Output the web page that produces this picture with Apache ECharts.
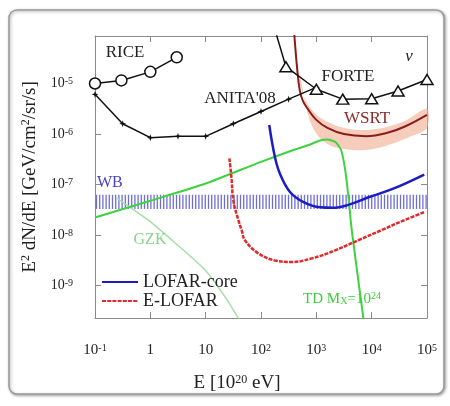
<!DOCTYPE html>
<html><head><meta charset="utf-8">
<script src="https://cdn.jsdelivr.net/npm/echarts@6/dist/echarts.min.js"></script>
<style>html,body{margin:0;padding:0;background:#fff}#c{width:450px;height:406px}</style>
</head><body><div id="c"></div>
<script>
// ---- tick values / labels ----
const xTickValues = [0.1, 1, 10, 100, 1000, 10000, 100000];
const xTickLabels = ['10{sup|-1}', '1', '10', '10{sup|2}', '10{sup|3}', '10{sup|4}', '10{sup|5}'];
const yTickValues = [1e-9, 1e-8, 1e-7, 1e-6, 1e-5];
const yTickLabels = ['10{sup|-9}', '10{sup|-8}', '10{sup|-7}', '10{sup|-6}', '10{sup|-5}'];

// ---- data: [E (1e20 eV), E^2 dN/dE (GeV/cm^2/sr/s)] ----
const RICE = [[0.1, 1.0e-5], [0.3, 1.15e-5], [1, 1.7e-5], [3, 3.3e-5]];
const ANITA = [[0.1, 6.1e-6], [0.316, 1.6e-6], [1, 8.5e-7], [3.16, 9.0e-7], [10, 9.0e-7], [31.6, 1.6e-6], [100, 2.8e-6], [316, 4.9e-6], [1000, 8.4e-6]];
const FORTE = [[100, 1.0e-3], [282, 2.15e-5], [1000, 7.7e-6], [3000, 4.9e-6], [10000, 5.0e-6], [30000, 7.1e-6], [100000, 1.2e-5]];
const WSRT = [[398, 1.0e-4], [447, 2.14e-5], [501, 7.4e-6], [575, 4.47e-6], [708, 3.09e-6], [1000, 1.91e-6], [1585, 1.32e-6], [3162, 1.0e-6], [7943, 9.1e-7], [19953, 1.07e-6], [39811, 1.41e-6], [100000, 2.4e-6]];
const WSRT_upper = [[490, 1.2e-5], [575, 6.03e-6], [708, 3.8e-6], [891, 2.75e-6], [1259, 2.0e-6], [2512, 1.41e-6], [6310, 1.2e-6], [15849, 1.32e-6], [39811, 1.82e-6], [100000, 3.16e-6]];
const WSRT_lower = [[525, 1.2e-5], [603, 5.01e-6], [708, 2.4e-6], [891, 1.26e-6], [1259, 7.59e-7], [1995, 5.62e-7], [5012, 4.79e-7], [10000, 5.01e-7], [25119, 6.61e-7], [50119, 8.91e-7], [100000, 1.32e-6]];
const TD = [[0.1, 2.24e-8], [1, 4.79e-8], [10, 1.05e-7], [100, 2.82e-7], [398, 4.9e-7], [794, 6.3e-7], [1122, 7.4e-7], [1585, 7.8e-7], [2239, 6.9e-7], [2818, 4.79e-7], [3311, 2.0e-7], [3802, 5.75e-8], [4365, 1.26e-8], [7413, 1.58e-10]];
const GZK = [[0.251, 5.37e-8], [0.457, 3.39e-8], [0.912, 2.0e-8], [2.455, 7.94e-9], [9.77, 2.04e-9], [22.4, 6.03e-10], [38.0, 2.4e-10], [44.7, 1.78e-10]];
const LOFAR_core = [[141, 1.51e-6], [178, 3.55e-7], [219, 1.66e-7], [331, 7.24e-8], [575, 4.57e-8], [1175, 3.55e-8], [1995, 3.47e-8], [3548, 3.89e-8], [9333, 5.75e-8], [24547, 8.32e-8], [89125, 1.585e-7]];
const E_LOFAR = [[26.9, 3.31e-7], [29.5, 1.23e-7], [31.6, 4.9e-8], [38.9, 2.0e-8], [44.7, 1.26e-8], [51.3, 7.94e-9], [89.1, 4.37e-9], [178, 3.16e-9], [355, 2.95e-9], [832, 3.47e-9], [2188, 5.01e-9], [5754, 7.94e-9], [15136, 1.26e-8], [39811, 2.0e-8], [91201, 2.88e-8]];
const WB = [[0.1, 100000, 3.3e-8, 6.3e-8]]; // xmin, xmax, ylow, yhigh

const FONT = "'Liberation Serif','DejaVu Serif',serif";
const AX = '#8a8a8a';
const TXT = '#222';

function fmt(values, labels) {
  return function (v) {
    const lv = Math.log10(v);
    const i = values.findIndex(t => Math.abs(Math.log10(t) - lv) < 1e-4);
    return i < 0 ? '' : labels[i];
  };
}
const supRich = { sup: { fontSize: 10, fontFamily: FONT, color: TXT, verticalAlign: 'top', lineHeight: 10 } };

function xAxisDef(pos, showLabel) {
  return {
    type: 'log', logBase: 10, min: 0.1, max: 100000, position: pos,
    axisLine: { show: true, onZero: false, lineStyle: { color: AX, width: 1 } },
    axisTick: { show: true, inside: true, length: 6, lineStyle: { color: AX } },
    splitLine: { show: false },
    axisLabel: { show: showLabel, margin: 25, fontFamily: FONT, fontSize: 15, color: TXT, lineHeight: 15,
      formatter: fmt(xTickValues, xTickLabels), rich: supRich }
  };
}
function yAxisDef(pos, showLabel) {
  return {
    type: 'log', logBase: 10, min: 2.3e-10, max: 8.7e-5, position: pos,
    axisLine: { show: true, onZero: false, lineStyle: { color: AX, width: 1 } },
    axisTick: { show: true, inside: true, length: 6, lineStyle: { color: AX } },
    splitLine: { show: false },
    axisLabel: { show: showLabel, margin: 22, fontFamily: FONT, fontSize: 14, color: TXT, lineHeight: 14,
      formatter: fmt(yTickValues, yTickLabels), rich: supRich }
  };
}

const yA = yAxisDef('left', true);
yA.name = 'E{sup|2} dN/dE [GeV/cm{sup|2}/sr/s]';
yA.nameLocation = 'middle';
yA.nameGap = 52;
yA.nameRotate = 90;
yA.nameTextStyle = { fontFamily: FONT, fontSize: 19, color: TXT, lineHeight: 20,
  rich: { sup: { fontSize: 12, fontFamily: FONT, color: TXT, verticalAlign: 'top', lineHeight: 12 } } };

const chart = echarts.init(document.getElementById('c'), null, { renderer: 'canvas' });

const option = {
  animation: false,
  backgroundColor: '#fff',
  grid: { left: 95, right: 23, top: 36, bottom: 88, show: false },
  xAxis: [xAxisDef('bottom', true), xAxisDef('top', false)],
  yAxis: [yA, yAxisDef('right', false)],
  legend: {
    data: ['LOFAR-core', 'E-LOFAR'], orient: 'vertical', left: 101, top: 273, padding: 0,
    itemWidth: 36, itemHeight: 12, itemGap: 1,
    itemStyle: { opacity: 0 },
    textStyle: { fontFamily: FONT, fontSize: 18, color: TXT, lineHeight: 16 }
  },
  graphic: [
    { type: 'rect', z: -10, shape: { x: 9, y: 10, width: 435, height: 384, r: 8 },
      style: { fill: '#fff', stroke: '#9a9a9a', lineWidth: 1.5, shadowBlur: 3, shadowColor: 'rgba(0,0,0,0.35)', shadowOffsetX: 1, shadowOffsetY: 1 } },
    { type: 'text', z: 100, x: 125, y: 53, style: { text: 'RICE', font: '17px ' + FONT, fill: TXT, align: 'center', verticalAlign: 'middle' } },
    { type: 'text', z: 100, x: 240, y: 99, style: { text: "ANITA'08", font: '17px ' + FONT, fill: TXT, align: 'center', verticalAlign: 'middle' } },
    { type: 'text', z: 100, x: 348, y: 77, style: { text: 'FORTE', font: '17px ' + FONT, fill: TXT, align: 'center', verticalAlign: 'middle' } },
    { type: 'text', z: 100, x: 367, y: 119, style: { text: 'WSRT', font: '17px ' + FONT, fill: '#8b2a2a', align: 'center', verticalAlign: 'middle' } },
    { type: 'text', z: 100, x: 409, y: 57, style: { text: 'ν', font: 'italic 17px ' + FONT, fill: TXT, align: 'center', verticalAlign: 'middle' } },
    { type: 'text', z: 100, x: 97, y: 183, style: { text: 'WB', font: '16px ' + FONT, fill: '#4444c4', align: 'left', verticalAlign: 'middle' } },
    { type: 'text', z: 100, x: 150, y: 240, style: { text: 'GZK', font: '16px ' + FONT, fill: '#88d488', align: 'center', verticalAlign: 'middle' } },
    { type: 'text', z: 100, x: 342, y: 299, style: { text: 'TD M{sub|X}=10{sup|24}', font: '15px ' + FONT, fill: '#3ccc3c', align: 'center', verticalAlign: 'middle',
      rich: { sub: { fontSize: 10, fontFamily: FONT, fill: '#3ccc3c', verticalAlign: 'bottom', lineHeight: 10 },
              sup: { fontSize: 10, fontFamily: FONT, fill: '#3ccc3c', verticalAlign: 'top', lineHeight: 10 } } } },
    { type: 'text', z: 100, x: 237, y: 383, style: { text: 'E [10{sup|20} eV]', font: '19px ' + FONT, fill: TXT, align: 'center', verticalAlign: 'middle',
      rich: { sup: { fontSize: 12, fontFamily: FONT, fill: TXT, verticalAlign: 'top', lineHeight: 12 } } } }
  ],
  series: [
    { name: 'WB', type: 'custom', z: 1, data: WB, encode: { x: [0, 1], y: [2, 3] },
      renderItem: function (params, api) {
        const p1 = api.coord([api.value(0), api.value(3)]);
        const p2 = api.coord([api.value(1), api.value(2)]);
        const children = [];
        for (let x = p1[0] + 1.5; x < p2[0]; x += 3.2) {
          children.push({ type: 'line', shape: { x1: x, y1: p1[1], x2: x, y2: p2[1] }, style: { stroke: '#6e6ed8', lineWidth: 1.3 } });
        }
        return { type: 'group', children: children };
      } },
    { name: 'WSRT band', type: 'custom', z: 1, data: [[WSRT_upper[0][0], WSRT_upper[0][1]]],
      renderItem: function (params, api) {
        const pts = WSRT_upper.map(p => api.coord(p)).concat(WSRT_lower.slice().reverse().map(p => api.coord(p)));
        return { type: 'polygon', shape: { points: pts, smooth: 0.3 }, style: { fill: 'rgba(240,170,140,0.6)' } };
      } },
    { name: 'GZK', type: 'line', data: GZK, showSymbol: false, smooth: 0.3, z: 2,
      lineStyle: { color: '#a6dea6', width: 1.5 } },
    { name: 'TD', type: 'line', data: TD, showSymbol: false, smooth: 0.2, z: 3,
      lineStyle: { color: '#3fd23f', width: 2 } },
    { name: 'E-LOFAR', type: 'line', data: E_LOFAR, showSymbol: false, symbol: 'none', smooth: 0.4, z: 4,
      lineStyle: { color: '#e02a2a', width: 2.5, type: [4, 1.2] }, itemStyle: { color: '#e02a2a' } },
    { name: 'LOFAR-core', type: 'line', data: LOFAR_core, showSymbol: false, symbol: 'none', smooth: 0.4, z: 4,
      lineStyle: { color: '#1c1cc4', width: 2.5 }, itemStyle: { color: '#1c1cc4' } },
    { name: 'WSRT', type: 'line', data: WSRT, showSymbol: false, smooth: 0.4, z: 4,
      lineStyle: { color: '#8b1c1c', width: 2 } },
    { name: 'ANITA', type: 'line', data: ANITA, z: 5,
      symbol: 'path://M0,-10L2.5,-2.5L10,0L2.5,2.5L0,10L-2.5,2.5L-10,0L-2.5,-2.5Z', symbolSize: 7,
      lineStyle: { color: '#111', width: 1.5 }, itemStyle: { color: '#111' } },
    { name: 'FORTE', type: 'line', data: FORTE, z: 6,
      symbol: 'triangle', symbolSize: [12, 10],
      lineStyle: { color: '#111', width: 1.5 }, itemStyle: { color: '#fff', borderColor: '#111', borderWidth: 1.5 } },
    { name: 'RICE', type: 'line', data: RICE, z: 6,
      symbol: 'circle', symbolSize: 11,
      lineStyle: { color: '#111', width: 1.5 }, itemStyle: { color: '#fff', borderColor: '#111', borderWidth: 1.5 } }
  ]
};
chart.setOption(option);
</script>
</body></html>
